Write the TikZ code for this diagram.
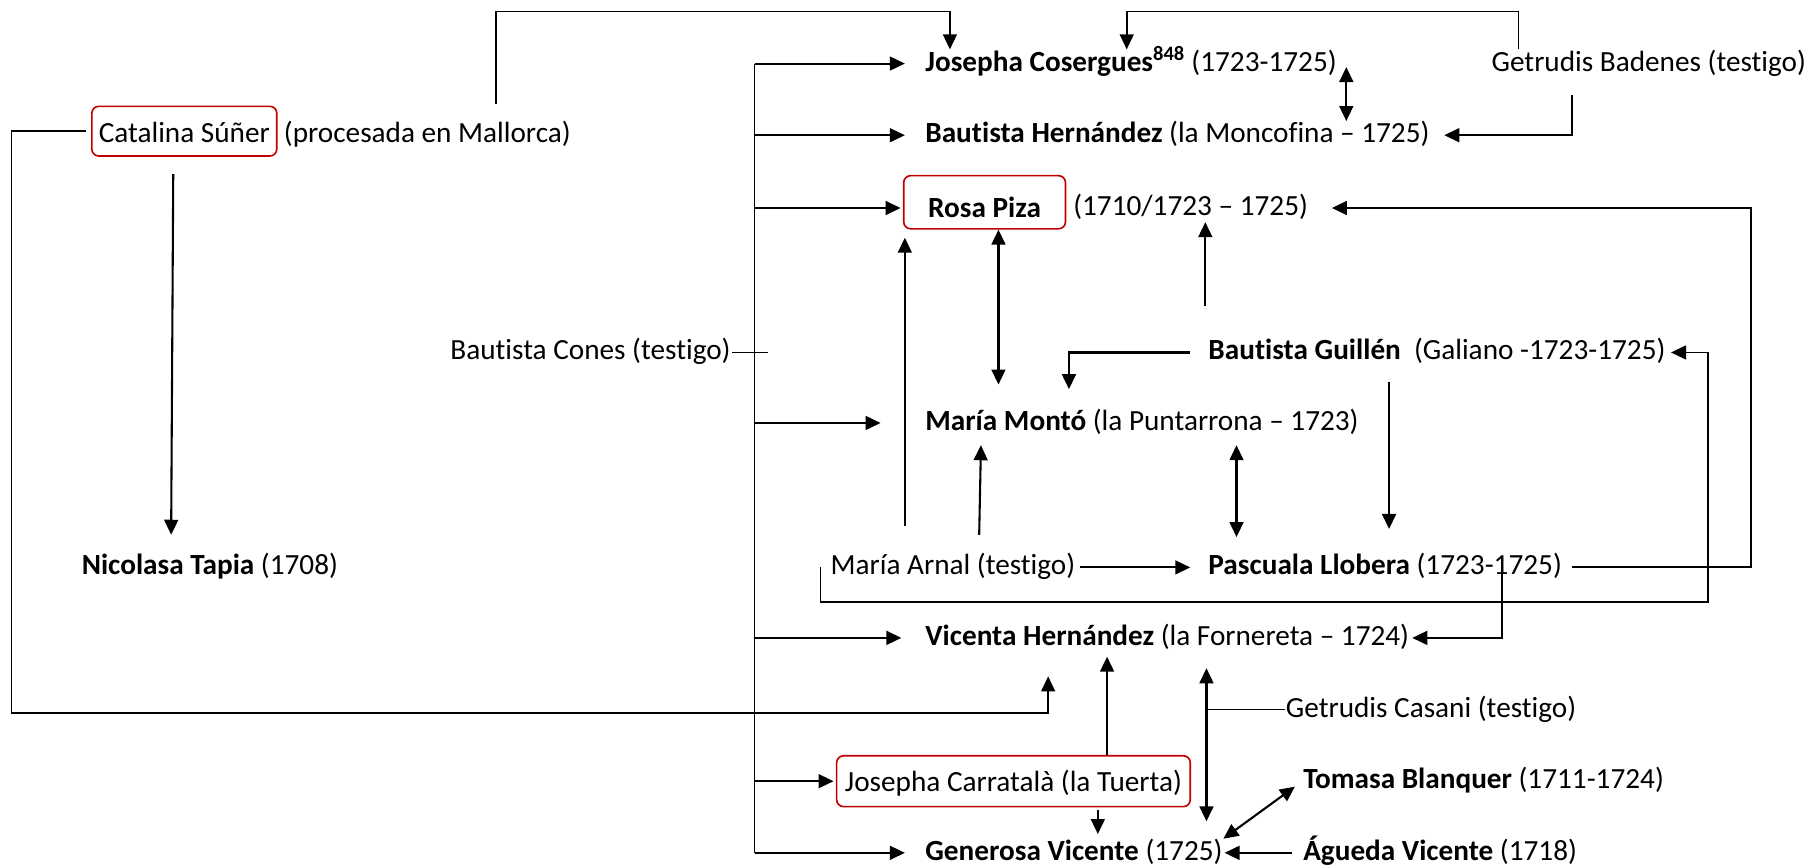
\documentclass[tikz,border=0pt]{standalone}
\usepackage{fontspec}
\setmainfont{Carlito}[Ligatures={NoCommon}]
\usetikzlibrary{arrows.meta}
\definecolor{boxred}{RGB}{192,0,0}
\tikzstyle{every node}=[anchor=west, inner sep=0pt, text height=18pt,
	                        text depth=5pt, font=\fontsize{25.3}{30}\selectfont]
\tikzstyle{redbox}=[draw=boxred, line width=1.4pt, rounded corners=6pt,
	                        anchor=center, inner xsep=6pt]
\tikzstyle{arr}=[line width=1.8pt, -{Triangle[length=13pt,width=12pt]}]
\tikzstyle{darr}=[line width=1.8pt, {Triangle[length=13pt,width=12pt]}-{Triangle[length=13pt,width=12pt]}]

\begin{document}
\begin{tikzpicture}[x=1pt, y=-1pt, line width=1.5pt]
\useasboundingbox (0,0) rectangle (1568,751);
\node (cs) [redbox, minimum height=43pt, text height=22pt, text depth=2pt] at (159.5,113.5) {Catalina Súñer};
\node (csx) at (245,117) {(procesada en Mallorca)};
\node (jc) at (800,55) {\textbf{Josepha Cosergues}\textsuperscript{\textbf{848}} (1723-1725)};
\node (gb) at (1290,55) {Getrudis Badenes (testigo)};
\node (bh) at (800,117) {\textbf{Bautista Hernández} (la Moncofina – 1725)};
\node (rp) [redbox, minimum width=140pt, minimum height=46pt, text height=28pt, text depth=2pt] at (852,175) {\textbf{Rosa Piza}};
\node (rpd) at (928,180) {(1710/1723 – 1725)};
\node (bc) [anchor=east] at (633,305) {Bautista Cones (testigo)};
\node (bg) at (1045,305) {\textbf{Bautista Guillén}\ \ (Galiano -1723-1725)};
\node (mm) at (800,366) {\textbf{María Montó} (la Puntarrona – 1723)};
\node (nt) at (70,491) {\textbf{Nicolasa Tapia} (1708)};
\node (ma) at (718,491) {María Arnal (testigo)};
\node (pl) at (1045,491) {\textbf{Pascuala Llobera} (1723-1725)};
\node (vh) at (800,552) {\textbf{Vicenta Hernández} (la Fornereta – 1724)};
\node (gc) at (1112,614) {Getrudis Casani (testigo)};
\node (jca) [redbox, inner xsep=3pt, minimum width=306pt, minimum height=44pt, text height=20pt, text depth=2pt] at (877,676) {Josepha Carratalà (la Tuerta)};
\node (tb) at (1127,676) {\textbf{Tomasa Blanquer} (1711-1724)};
\node (gv) at (800,738) {\textbf{Generosa Vicente} (1725)};
\node (av) at (1127,738) {\textbf{Águeda Vicente} (1718)};

\coordinate (bus) at (653,305);
\draw (bc.east) -- ([xshift=12pt]bus);
\draw (bus |- jc.west) -- (bus |- gv.west);
\foreach \n/\s in {jc/17pt,bh/17pt,mm/38pt,vh/20pt,jca/2pt,gv/17pt}
{
	\draw[arr, shorten >=\s] (bus |- \n.west) -- (\n.west);
}
\draw[arr, shorten >=2pt] (bus |- rpd.west) -- (rp.west |- rpd.west);

\draw[arr, line width=1.5pt, shorten <=15pt] (csx.north -| 429,0) -- (429,10) -| (jc.north -| 822,0);
\draw[arr, line width=1.5pt, shorten <=4pt, shorten >=21pt] (cs.west) -| (10,617) -| (vh.south -| 907,0);
\draw[arr, shorten <=15pt, shorten >=16pt] (cs.south -| 150,0) -- (nt.north -| 148,0);

\draw[arr, line width=1.5pt] (gb.north -| 1314,0) |- (975,10) -- (jc.north -| 975,0);
\draw[arr, shorten <=15pt, shorten >=12pt] (gb.south -| 1360,0) |- (bh.east);
\draw[darr, shorten <=3pt] (jc.east -| 1165,0) -- (bh.north -| 1165,0);

\draw[darr, shorten >=21pt] (rp.south -| 864,0) -- (mm.north -| 864,0);

\draw[arr, shorten <=24pt, shorten >=7pt] (ma.north -| 783,0) -- (rp.south -| 783,0);
\draw[arr, shorten <=16pt, shorten >=7pt] (ma.north -| 847,0) -- (mm.south -| 849,0);
\draw[arr, shorten <=3pt, shorten >=15pt] (ma.east) -- (pl.west);
\draw[arr, line width=1.5pt, shorten >=4pt] ([xshift=-8pt]ma.west) |- (1478,521) |- (bg.east);

\draw[arr, shorten <=8pt, shorten >=20pt] (pl.east) -- (pl.east -| 1515,0) |- (rpd.east);
\draw[darr, shorten <=7pt, shorten >=14pt] (mm.south -| 1070,0) -- (pl.north -| 1070,0);
\draw[arr, shorten >=2pt] (pl.east -| 1300,0) |- (vh.east);

\draw[arr, shorten <=28pt] (bg.north -| 1043,0) -- (rpd.south -| 1043,0);
\draw[arr, shorten <=15pt, shorten >=17pt] (bg.west) -| (mm.north -| 925,0);
\draw[arr, shorten <=13pt, shorten >=21pt] (bg.south -| 1202,0) -- (pl.north -| 1202,0);

\draw[arr, shorten >=4pt] (jca.north -| 958,0) -- (vh.south -| 958,0);
\draw[arr, shorten <=2pt, shorten >=4pt] (jca.south -| 950,0) -- (gv.north -| 950,0);

\coordinate (gcj) at (gc.west -| 1044,0);
\draw (gc.west) -- (gcj);
\draw[arr, shorten >=14pt] (gcj) -- (vh.south -| gcj);
\draw[arr, shorten >=15pt] (gcj) -- (gv.north -| gcj);

\draw[darr, shorten <=8pt] (tb.west) -- (gv.north east);
\draw[arr, shorten <=9pt, shorten >=1pt] (av.west) -- (gv.east);
\end{tikzpicture}
\end{document}
